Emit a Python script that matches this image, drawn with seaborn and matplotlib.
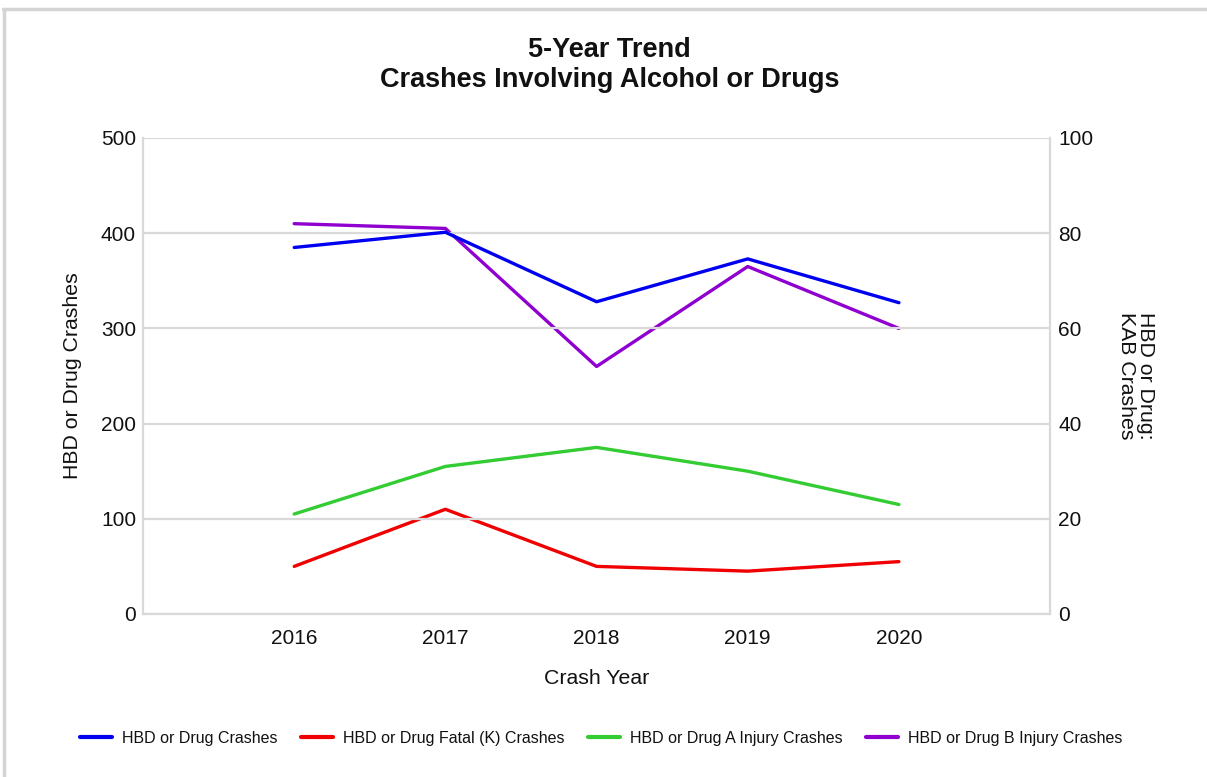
import numpy as np
import pandas as pd
import seaborn as sns
import matplotlib.pyplot as plt
from matplotlib.lines import Line2D

# data
years = [2016, 2017, 2018, 2019, 2020]
hbd_drug = [385, 401, 328, 373, 327]        # left axis
fatal_k = [10, 22, 10, 9, 11]               # right axis
injury_a = [21, 31, 35, 30, 23]             # right axis
injury_b = [82, 81, 52, 73, 60]             # right axis

labels = ["HBD or Drug Crashes", "HBD or Drug Fatal (K) Crashes",
          "HBD or Drug A Injury Crashes", "HBD or Drug B Injury Crashes"]
colors = ["#0000F0", "#F00000", "#33CC33", "#8F00D0"]

sns.set_theme(style="white")
plt.rcParams['font.family'] = ['Liberation Sans', 'DejaVu Sans']

fig = plt.figure(figsize=(12.07, 7.77), dpi=100)
ax = fig.add_axes([0.1185, 0.2098, 0.7515, 0.6126])
ax2 = ax.twinx()

left_df = pd.DataFrame({"year": years, "value": hbd_drug})
right_df = pd.DataFrame({
    "year": years * 3,
    "value": fatal_k + injury_a + injury_b,
    "series": [labels[1]] * 5 + [labels[2]] * 5 + [labels[3]] * 5,
})

sns.lineplot(data=right_df, x="year", y="value", hue="series",
             palette=dict(zip(labels[1:], colors[1:])), linewidth=2.4,
             ax=ax2, legend=False)
sns.lineplot(data=left_df, x="year", y="value", color=colors[0],
             linewidth=2.4, ax=ax, legend=False)
ax.set_zorder(ax2.get_zorder() + 1)
ax.patch.set_visible(False)

grid_c = "#d9d9d9"
txt_c = "#111111"
ax.set_xlim(2015, 2021)
ax.set_ylim(0, 500)
ax.set_yticks(np.arange(0, 501, 100))
ax2.set_ylim(0, 100)
ax2.set_yticks(np.arange(0, 101, 20))
ax.set_xticks(years)
ax.grid(axis="y", color=grid_c, linewidth=1.6)
for a in (ax, ax2):
    for s in a.spines.values():
        s.set_visible(False)
    a.tick_params(length=0, labelsize=15, colors=txt_c)
for a, side in ((ax, "left"), (ax2, "right"), (ax, "bottom")):
    a.spines[side].set_visible(True)
    a.spines[side].set_color(grid_c)
    a.spines[side].set_linewidth(1.6)
ax.tick_params(axis="x", pad=11)
ax.tick_params(axis="y", pad=5)
ax2.tick_params(axis="y", pad=6)

ax.set_xlabel("Crash Year", fontsize=15.3, labelpad=15, color=txt_c)
ax.set_ylabel("HBD or Drug Crashes", fontsize=15.3, labelpad=14, color=txt_c)
ax2.set_ylabel("HBD or Drug:\nKAB Crashes", fontsize=15.3, rotation=-90,
               labelpad=44, color=txt_c, linespacing=1.0)

fig.suptitle("5-Year Trend\nCrashes Involving Alcohol or Drugs",
             fontsize=19.5, fontweight="bold", y=0.952, linespacing=1.2,
             color=txt_c, x=0.505)

handles = [Line2D([0], [0], color=c, linewidth=3) for c in colors]
fig.legend(handles, labels, loc="center", bbox_to_anchor=(0.498, 0.05), ncol=4,
           frameon=False, fontsize=11.5, handlelength=2.0, columnspacing=1.5,
           handletextpad=0.6, labelcolor=txt_c)

# light frame at top/left edge
fig.add_artist(Line2D([3 / 1207, 1], [1 - 9 / 777, 1 - 9 / 777],
                      color="#d4d4d4", linewidth=2.5, transform=fig.transFigure))
fig.add_artist(Line2D([4 / 1207, 4 / 1207], [0, 1 - 9 / 777],
                      color="#d4d4d4", linewidth=2.5, transform=fig.transFigure))

plt.savefig("out.png", dpi=100)
